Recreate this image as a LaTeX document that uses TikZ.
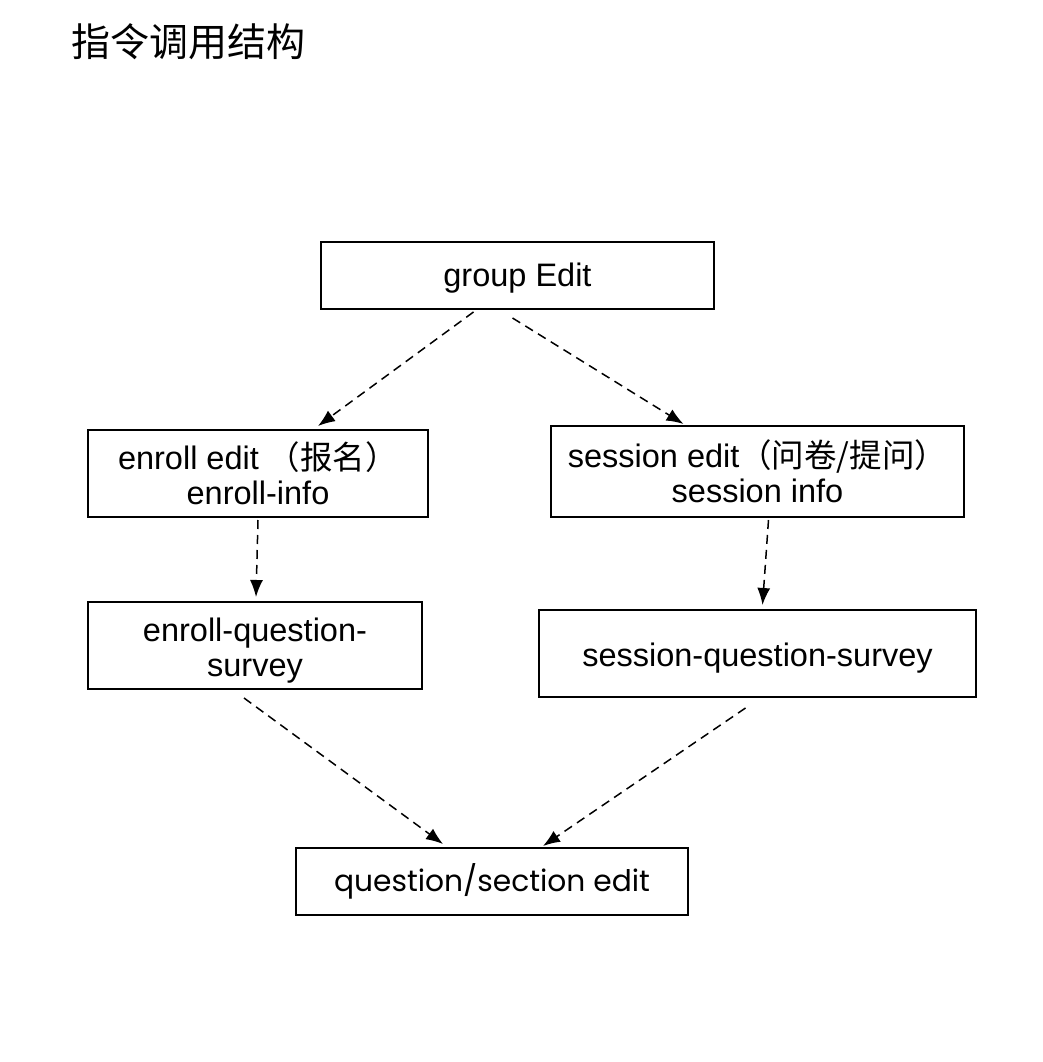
\documentclass[tikz,border=0pt]{standalone}
\usepackage{fontspec}
\setmainfont{Liberation Sans}
\newfontfamily\cjk{Noto Sans CJK SC}
\newfontfamily\geo{Poppins}
\usetikzlibrary{arrows.meta}

\begin{document}
\begin{tikzpicture}[x=1pt,y=-1pt,
 box/.style={draw,line width=2pt,inner sep=0pt,align=center,
  text height=28pt,text depth=7pt,
  font=\fontsize{32.5}{35}\selectfont},
 twoline/.style={text height=69pt},
 call/.style={line width=1.5pt,dash pattern=on 9pt off 6pt,
  -{Latex[length=17pt,width=13pt]}}]
 \useasboundingbox
 (0,0) rectangle (1042,1062)
 ;
 \node (title) at (188,42) {\fontsize{39}{39}\selectfont\cjk 指令调用结构};
 \node[box,minimum width=393pt,minimum height=67pt] (group) at (517.5,275.5) {group Edit};
 \node[box,twoline,minimum width=340pt,minimum height=87pt] (enroll) at (258,473.5)
 {enroll edit {\cjk （报名）}\\enroll-info};
 \node[box,twoline,minimum width=413pt,minimum height=91pt] (session) at (757.5,471.5)
 {session edit{\cjk （问卷/提问）}\\session info};
 \node[box,twoline,minimum width=334pt,minimum height=87pt] (enrollsurvey) at (255,645.5)
 {enroll-question-\\survey};
 \node[box,minimum width=437pt,minimum height=87pt,text height=33pt] (sessionsurvey) at (757.5,653.5)
 {session-question-survey};
 \node[box,minimum width=392pt,minimum height=67pt,text height=27pt] (question) at (492,881.5)
 {\fontsize{29.7}{35}\selectfont\geo question/section edit};
 \draw[call] ([xshift=-44pt,yshift=-2pt]group.south) -- ([xshift=60pt,yshift=3pt]enroll.north);
 \draw[call] ([xshift=-5pt,yshift=-8pt]group.south) -- ([xshift=-74pt,yshift=1pt]session.north);
 \draw[call] ([yshift=-2pt]enroll.south) -- ([xshift=1pt,yshift=4pt]enrollsurvey.north);
 \draw[call] ([xshift=11pt,yshift=-2pt]session.south) -- ([xshift=5pt,yshift=4pt]sessionsurvey.north);
 \draw[call] ([xshift=-11pt,yshift=-8pt]enrollsurvey.south) -- ([xshift=-49pt,yshift=3pt]question.north);
 \draw[call] ([xshift=-12pt,yshift=-10pt]sessionsurvey.south) -- ([xshift=51pt,yshift=1pt]question.north);
\end{tikzpicture}
\end{document}
